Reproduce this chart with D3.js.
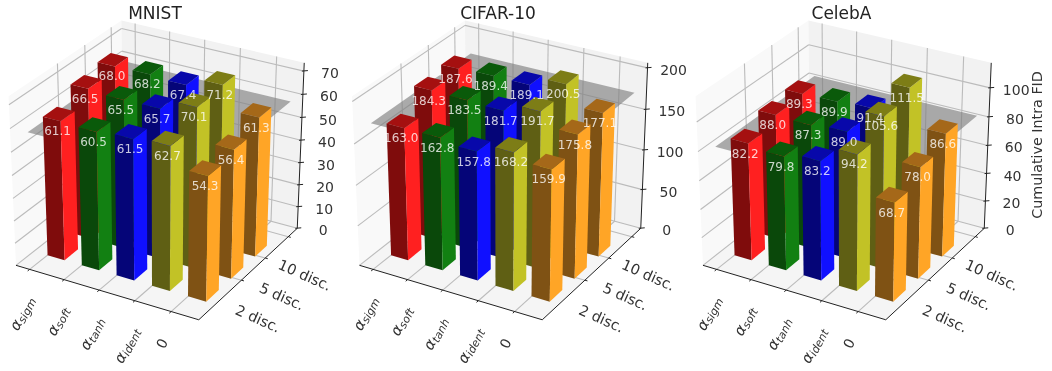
<!DOCTYPE html>
<html>
<head>
<meta charset="utf-8">
<script src="https://cdn.jsdelivr.net/npm/d3@7"></script>
<style>
  html, body { margin: 0; padding: 0; background: #fff; }
  svg { display: block; font-family: "DejaVu Sans"; filter: blur(0.5px); }
</style>
</head>
<body>
<svg id="chart" width="1052" height="371"></svg>
<script>
// bar heights per row, one list per dataset
const mnist2 = [61.1, 60.5, 61.5, 62.7, 54.3];
const mnist5 = [66.5, 65.5, 65.7, 70.1, 56.4];
const mnist10 = [68.0, 68.2, 67.4, 71.2, 61.3];
const cifar2 = [163.0, 162.8, 157.8, 168.2, 159.9];
const cifar5 = [184.3, 183.5, 181.7, 191.7, 175.8];
const cifar10 = [187.6, 189.4, 189.1, 200.5, 177.1];
const celeba2 = [82.2, 79.8, 83.2, 94.2, 68.7];
const celeba5 = [88.0, 87.3, 89.0, 105.6, 78.0];
const celeba10 = [89.3, 89.9, 91.4, 111.5, 86.6];

const rowLabels = ["2 disc.", "5 disc.", "10 disc."];
const colNames = ["sigm", "soft", "tanh", "ident"];
const faceRight = ["#ff2020", "#128012", "#1010ff", "#c2c226", "#ffa526"];
const faceFront = ["#7f0c0c", "#0a480a", "#050578", "#5f5f14", "#7f5214"];
const faceTop = ["#a51010", "#0a5a0a", "#0808aa", "#7d7d16", "#a56819"];

const mnistTicks = [0, 10, 20, 30, 40, 50, 60, 70];
const cifarTicks = [0, 50, 100, 150, 200];
const celebaTicks = [0, 20, 40, 60, 80, 100];

const panels = [
  { title: "MNIST", rows: [mnist2, mnist5, mnist10], ticks: mnistTicks, zTop: 73.5, plane: 60.5, cx: 158.8, titleX: 155 },
  { title: "CIFAR-10", rows: [cifar2, cifar5, cifar10], ticks: cifarTicks, zTop: 206, plane: 180, cx: 502.3, titleX: 498 },
  { title: "CelebA", rows: [celeba2, celeba5, celeba10], ticks: celebaTicks, zTop: 117, plane: 86.5, cx: 845.8, titleX: 841.5 }
];

// same view as mplot3d defaults: elev 30, azim -60, dist 10
const elev = 30 * Math.PI / 180, azim = -60 * Math.PI / 180, dist = 10;
const n = [Math.cos(elev) * Math.cos(azim), Math.cos(elev) * Math.sin(azim), Math.sin(elev)];
const u = [-n[1], n[0], 0].map(d => d / Math.hypot(n[0], n[1]));
const v = [n[1] * u[2] - n[2] * u[1], n[2] * u[0] - n[0] * u[2], n[0] * u[1] - n[1] * u[0]];
const dot = (a, b) => a[0] * b[0] + a[1] * b[1] + a[2] * b[2];

const xLim = [-0.4, 4.75];
const yLim = [-0.65, 3.45];
const barW = 0.5, barD = 0.5;
const kx = 2110, ky = 1930, cy = 165;

const svg = d3.select("#chart");

panels.forEach(function(p, idx) {
  const g = svg.append("g");
  const xScale = d3.scaleLinear().domain(xLim).range([-0.5, 0.5]);
  const yScale = d3.scaleLinear().domain(yLim).range([-0.5, 0.5]);
  const zScale = d3.scaleLinear().domain([0, p.zTop]).range([-0.5, 0.5]);

  function proj(x, y, z) {
    const q = [xScale(x), yScale(y), zScale(z)];
    const w = dist - dot(n, q);
    return [p.cx + kx * dot(u, q) / w, cy - ky * dot(v, q) / w];
  }
  const poly = pts => pts.map(d => proj(d[0], d[1], d[2]).join(",")).join(" ");
  const seg = function(a, b, stroke, width) {
    const s = proj(a[0], a[1], a[2]), e = proj(b[0], b[1], b[2]);
    g.append("line").attr("x1", s[0]).attr("y1", s[1]).attr("x2", e[0]).attr("y2", e[1])
      .attr("stroke", stroke).attr("stroke-width", width);
  };

  const [x0, x1] = xLim, [y0, y1] = yLim, zT = p.zTop;

  // panes
  g.append("polygon").attr("points", poly([[x0, y0, 0], [x0, y1, 0], [x0, y1, zT], [x0, y0, zT]])).attr("fill", "#f9f9f9");
  g.append("polygon").attr("points", poly([[x0, y1, 0], [x1, y1, 0], [x1, y1, zT], [x0, y1, zT]])).attr("fill", "#f2f2f2");
  g.append("polygon").attr("points", poly([[x0, y0, 0], [x1, y0, 0], [x1, y1, 0], [x0, y1, 0]])).attr("fill", "#f5f5f5");

  // grid lines
  const xTicks = d3.range(5), yTicks = [1.05, 2.05, 3.05];
  const gridColor = "#bbb";
  xTicks.forEach(function(x) {
    seg([x, y0, 0], [x, y1, 0], gridColor, 1.1);
    seg([x, y1, 0], [x, y1, zT], gridColor, 1.1);
  });
  yTicks.forEach(function(y) {
    seg([x0, y, 0], [x1, y, 0], gridColor, 1.1);
    seg([x0, y, 0], [x0, y, zT], gridColor, 1.1);
  });
  p.ticks.forEach(function(t) {
    seg([x0, y0, t], [x0, y1, t], gridColor, 1.1);
    seg([x0, y1, t], [x1, y1, t], gridColor, 1.1);
  });

  // axis lines
  seg([x0, y0, 0], [x1, y0, 0], "#222", 1);
  seg([x1, y0, 0], [x1, y1, 0], "#222", 1);
  seg([x1, y1, 0], [x1, y1, zT], "#222", 1);

  // x ticks and labels
  xTicks.forEach(function(i) {
    const s = proj(i, y0, 0);
    seg([i, y0, 0], [i, y0 - 0.07, 0], "#222", 1);
    const isAlpha = i < colNames.length;
    const t = g.append("text")
      .attr("transform", "translate(" + (s[0] + (isAlpha ? 1 : -7)) + "," + (s[1] + (isAlpha ? 28 : 28)) + ") rotate(-62)")
      .attr("text-anchor", "end").attr("dominant-baseline", "central")
      .attr("font-size", 15).attr("fill", "#333");
    if (isAlpha) {
      t.append("tspan").attr("font-style", "italic").text("α");
      t.append("tspan").attr("font-style", "italic").attr("font-size", 11).attr("dy", 3).text(colNames[i]);
    } else {
      t.attr("font-size", 14).text("0");
    }
  });

  // y ticks and labels
  yTicks.forEach(function(y, i) {
    const s = proj(x1, y, 0);
    seg([x1, y, 0], [x1 + 0.07, y, 0], "#222", 1);
    g.append("text")
      .attr("transform", "translate(" + (s[0] + 16.5) + "," + (s[1] + 38.5) + ") rotate(24)")
      .attr("text-anchor", "middle").attr("dominant-baseline", "central")
      .attr("font-size", 14.5).attr("fill", "#333")
      .text(rowLabels[i]);
  });

  // z ticks and labels
  p.ticks.forEach(function(t) {
    const s = proj(x1, y1, t);
    g.append("line").attr("x1", s[0] - 2).attr("y1", s[1]).attr("x2", s[0] + 4).attr("y2", s[1] - 0.5)
      .attr("stroke", "#222").attr("stroke-width", 1);
    g.append("text").attr("x", s[0] + 26).attr("y", s[1] + 2)
      .attr("text-anchor", "middle").attr("dominant-baseline", "central")
      .attr("font-size", 14).attr("fill", "#333").text(t);
  });

  // reference plane
  g.append("polygon").attr("points", poly([[0.1, -0.65, p.plane], [4.7, -0.65, p.plane], [4.7, 3, p.plane], [0.1, 3, p.plane]]))
    .attr("fill", "#808080").attr("fill-opacity", 0.65);

  // bars, far ones first
  for (let r = 2; r >= 0; r--) {
    p.rows[r].forEach(function(val, c) {
      const a = c, b = c + barW, d0 = r, d1 = r + barD;
      g.append("polygon").attr("points", poly([[a, d0, 0], [b, d0, 0], [b, d0, val], [a, d0, val]])).attr("fill", faceFront[c]);
      g.append("polygon").attr("points", poly([[b, d0, 0], [b, d1, 0], [b, d1, val], [b, d0, val]])).attr("fill", faceRight[c]);
      g.append("polygon").attr("points", poly([[a, d0, val], [b, d0, val], [b, d1, val], [a, d1, val]])).attr("fill", faceTop[c]);
    });
  }

  // value labels on top of everything
  for (let r = 2; r >= 0; r--) {
    p.rows[r].forEach(function(val, c) {
      const s = proj(c + barW, r, val);
      g.append("text").attr("x", s[0] - 3).attr("y", s[1] + 10)
        .attr("text-anchor", "middle").attr("dominant-baseline", "central")
        .attr("font-size", 12).attr("fill", "#fff").attr("fill-opacity", 0.78)
        .text(val.toFixed(1));
    });
  }

  g.append("text").attr("x", p.titleX).attr("y", 18.5)
    .attr("text-anchor", "middle").attr("font-size", 17).attr("fill", "#222").text(p.title);

  if (idx === 2) {
    g.append("text")
      .attr("transform", "translate(1042,145) rotate(-90)")
      .attr("text-anchor", "middle").attr("font-size", 14.3).attr("fill", "#333")
      .text("Cumulative Intra FID");
  }
});
</script>
</body>
</html>
